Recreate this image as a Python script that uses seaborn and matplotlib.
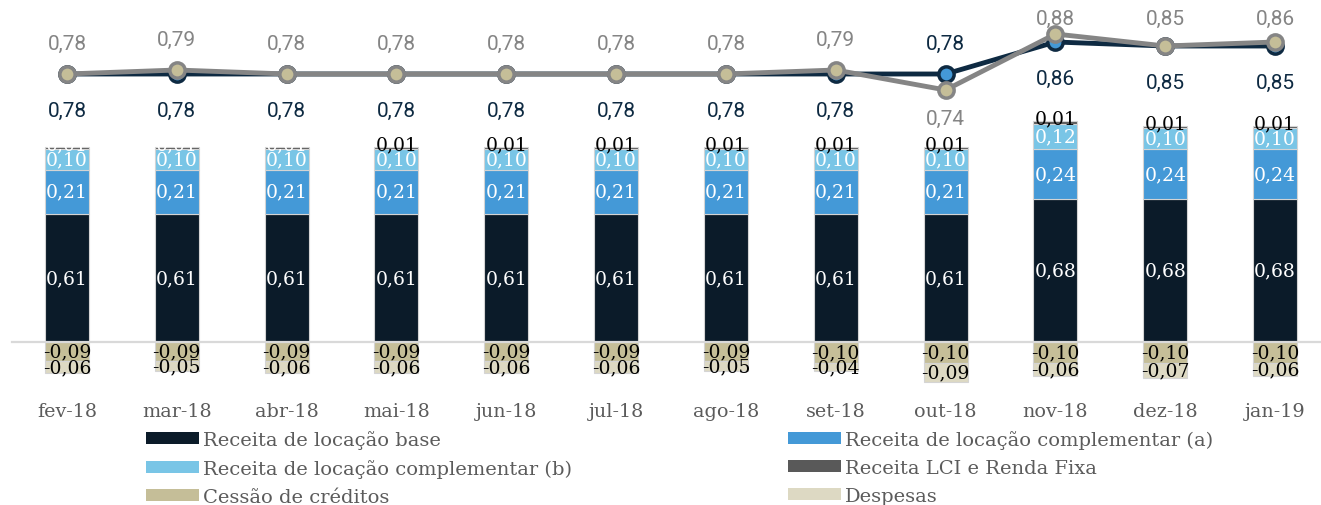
import numpy as np
import matplotlib
matplotlib.use("Agg")
import matplotlib.pyplot as plt
from matplotlib.patches import Patch
import seaborn as sns

months = ["fev-18", "mar-18", "abr-18", "mai-18", "jun-18", "jul-18",
          "ago-18", "set-18", "out-18", "nov-18", "dez-18", "jan-19"]

base = [0.61, 0.61, 0.61, 0.61, 0.61, 0.61, 0.61, 0.61, 0.61, 0.68, 0.68, 0.68]
comp_a = [0.21, 0.21, 0.21, 0.21, 0.21, 0.21, 0.21, 0.21, 0.21, 0.24, 0.24, 0.24]
comp_b = [0.10, 0.10, 0.10, 0.10, 0.10, 0.10, 0.10, 0.10, 0.10, 0.12, 0.10, 0.10]
lci = [0.01, 0.01, 0.01, 0.01, 0.01, 0.01, 0.01, 0.01, 0.01, 0.01, 0.01, 0.01]
cessao = [-0.09, -0.09, -0.09, -0.09, -0.09, -0.09, -0.09, -0.10, -0.10, -0.10, -0.10, -0.10]
despesas = [-0.06, -0.05, -0.06, -0.06, -0.06, -0.06, -0.05, -0.04, -0.09, -0.06, -0.07, -0.06]

line_dark = [0.78, 0.78, 0.78, 0.78, 0.78, 0.78, 0.78, 0.78, 0.78, 0.86, 0.85, 0.85]
line_grey = [0.78, 0.79, 0.78, 0.78, 0.78, 0.78, 0.78, 0.79, 0.74, 0.88, 0.85, 0.86]

labels = ["Receita de locação base", "Receita de locação complementar (a)",
          "Receita de locação complementar (b)", "Receita LCI e Renda Fixa",
          "Cessão de créditos", "Despesas"]

C_BASE = "#0b1b29"
C_COMPA = "#4499d7"
C_COMPB = "#79c5e6"
C_LCI = "#595959"
C_CESSAO = "#c5be98"
C_DESP = "#ddd9c3"
C_DARKLINE = "#0e2a42"
C_GREYLINE = "#858585"
C_TICK = "#5b5b5b"

sns.set_style("white")
plt.rcParams["font.family"] = ["DejaVu Serif", "DejaVu Sans"]


def fmt(v):
    return f"{v:.2f}".replace(".", ",")


fig = plt.figure(figsize=(13.21, 5.06), dpi=100)
ax = fig.add_axes([12 / 1321, 1 - 385 / 506, 1318 / 1321, 385 / 506])

n = len(months)
x = np.arange(n)
bot_a = np.array(base)
bot_b = bot_a + np.array(comp_a)
bot_lci = bot_b + np.array(comp_b)
tops = bot_lci + np.array(lci)

bar_kw = dict(width=0.4, saturation=1, errorbar=None, edgecolor="#d4d4d4",
              linewidth=0.8, ax=ax)
sns.barplot(x=months, y=base, color=C_BASE, **bar_kw)
sns.barplot(x=months, y=comp_a, bottom=bot_a, color=C_COMPA, **bar_kw)
sns.barplot(x=months, y=comp_b, bottom=bot_b, color=C_COMPB, **bar_kw)
sns.barplot(x=months, y=lci, bottom=bot_lci, color=C_LCI, **bar_kw)
sns.barplot(x=months, y=cessao, color=C_CESSAO, **bar_kw)
sns.barplot(x=months, y=despesas, bottom=np.array(cessao), color=C_DESP, **bar_kw)

# segment labels
seg_values = [base, comp_a, comp_b]
for cont, vals in zip(ax.containers[:3], seg_values):
    ax.bar_label(cont, labels=[fmt(v) for v in vals], label_type="center",
                 color="white", fontsize=13.5)
for cont, vals in zip(ax.containers[4:6], [cessao, despesas]):
    ax.bar_label(cont, labels=[fmt(v) for v in vals], label_type="center",
                 color="black", fontsize=13.5)
for i in range(n):
    ax.annotate(fmt(lci[i]), (x[i], tops[i]), xytext=(0, 2), textcoords="offset points",
                ha="center", va="center", fontsize=13.5,
                color="white" if i < 3 else "black")

ax.set_ylim(-0.2, 1.633)
ax.set_xlim(-0.5, 11.5)
ax.set_xlabel("")
ax.set_ylabel("")
ax.set_yticks([])
for s in ["top", "right", "left"]:
    ax.spines[s].set_visible(False)
ax.spines["bottom"].set_position(("data", 0))
ax.spines["bottom"].set_color("#d9d9d9")
ax.spines["bottom"].set_linewidth(1.6)
ax.set_xticks(x, months)
ax.set_xticks(np.arange(-0.5, n, 1), minor=True)
ax.tick_params(axis="x", which="major", length=0, pad=43, labelsize=13.8,
               labelcolor=C_TICK)
ax.tick_params(axis="x", which="minor", length=6, width=1.4, color="#d9d9d9")

# lines on secondary axis
ax2 = ax.twinx()
sns.lineplot(x=x, y=line_dark, ax=ax2, color=C_DARKLINE, linewidth=3.5,
             marker="o", markersize=11, markerfacecolor=C_COMPA,
             markeredgecolor=C_DARKLINE, markeredgewidth=2.5)
sns.lineplot(x=x, y=line_grey, ax=ax2, color=C_GREYLINE, linewidth=3.5,
             marker="o", markersize=11, markerfacecolor=C_CESSAO,
             markeredgecolor=C_GREYLINE, markeredgewidth=2.5)
y2_lo, y2_hi = 0.005, 0.9675
ax2.set_ylim(y2_lo, y2_hi)
ax2.set_yticks([])
ax2.set_ylabel("")
for s in ax2.spines.values():
    s.set_visible(False)

# labels above the line stay inside the plot area (as Excel does)
px_per_unit = 385 / (y2_hi - y2_lo)
lab_kw = dict(textcoords="offset points", ha="center", va="center",
              fontsize=15, family=["Roboto", "DejaVu Sans"])
for i in range(n):
    dark_up = line_dark[i] > line_grey[i]
    up_v = line_dark[i] if dark_up else line_grey[i]
    room = (y2_hi - up_v) * px_per_unit - 19
    up_off = min(31, room) * 0.72
    down_off = -36 * 0.72
    ax2.annotate(fmt(line_dark[i]), (x[i], line_dark[i]),
                 xytext=(0, up_off if dark_up else down_off),
                 color=C_DARKLINE, **lab_kw)
    ax2.annotate(fmt(line_grey[i]), (x[i], line_grey[i]),
                 xytext=(0, -28 * 0.72 if dark_up else up_off),
                 color=C_GREYLINE, **lab_kw)

colors = [C_BASE, C_COMPA, C_COMPB, C_LCI, C_CESSAO, C_DESP]
handles = [Patch(facecolor=c, edgecolor="none") for c in colors]
leg_kw = dict(loc="upper left", frameon=False, fontsize=14, handlelength=2.75,
              handleheight=0.6, handletextpad=0.2, labelspacing=0.52,
              borderpad=0, borderaxespad=0, labelcolor=C_TICK)
fig.legend(handles[0::2], labels[0::2], bbox_to_anchor=(146 / 1321, 1 - 431 / 506), **leg_kw)
fig.legend(handles[1::2], labels[1::2], bbox_to_anchor=(788 / 1321, 1 - 431 / 506), **leg_kw)

fig.savefig("out.png", dpi=100)
